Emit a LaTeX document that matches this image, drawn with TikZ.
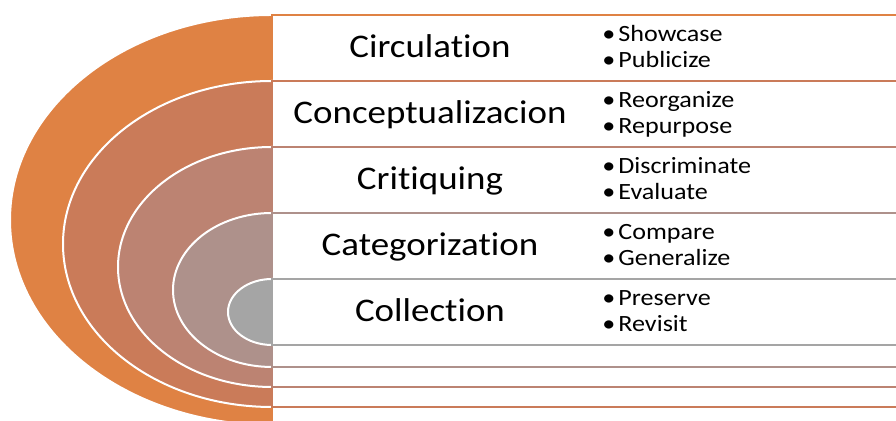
\documentclass[tikz,border=0pt]{standalone}
\usepackage{fontspec}
\setmainfont{Carlito}[FakeStretch=1.12, Ligatures=NoCommon]
\usetikzlibrary{positioning}
\definecolor{ringA}{RGB}{223,130,68}
\definecolor{ringB}{RGB}{202,123,89}
\definecolor{ringC}{RGB}{188,131,114}
\definecolor{ringD}{RGB}{174,145,139}
\definecolor{ringE}{RGB}{165,165,165}
\tikzset{
    ring/.style={
        fill=#1, draw=white, line width=1pt
    },
    band/.style={
        fill=white, draw=#1, line width=0.75pt
    },
    stage/.style={
        font=\fontsize{16.5}{19}\selectfont,
        anchor=base, inner sep=0pt
    },
    points/.style={
        font=\fontsize{11.65}{13}\selectfont,
        anchor=base west, inner sep=0pt
    }
}
\newcommand{\itm}[1]{\makebox[9pt][l]{\hspace{1pt}\textbullet}#1}

\begin{document}
\begin{tikzpicture}[x=0.5pt, y=0.5pt]
    \useasboundingbox (0,0) rectangle (896,421);
    \clip (0,0) rectangle (896,421);
    % rings from outside in, each with its band
    \foreach \i/\top/\bot/\rx/\ry/\col/\stg/\pa/\pb in {
        1/406/-4/131/102.5/ringA/Circulation/Showcase/Publicize,
        2/340/14/104.5/81.5/ringB/Conceptualizacion/Reorganize/Repurpose,
        3/274/34/77/60/ringC/Critiquing/Discriminate/Evaluate,
        4/208/54/49.5/38.5/ringD/Categorization/Compare/Generalize,
        5/142/76/22/16.5/ringE/Collection/Preserve/Revisit}
    {
        \filldraw[ring=\col] (272,\top) arc[start angle=90, end angle=270,
            x radius=\rx pt, y radius=\ry pt] -- cycle;
        \filldraw[band=\col] (272,\bot) rectangle (902,\top);
        \node[stage] (stage\i) at (430,\top-43) {\stg};
        \node[points] (first\i) at (600,\top-27) {\itm{\pa}};
        \node[points] (second\i) at (600,\top-53) {\itm{\pb}};
    }
\end{tikzpicture}
\end{document}
